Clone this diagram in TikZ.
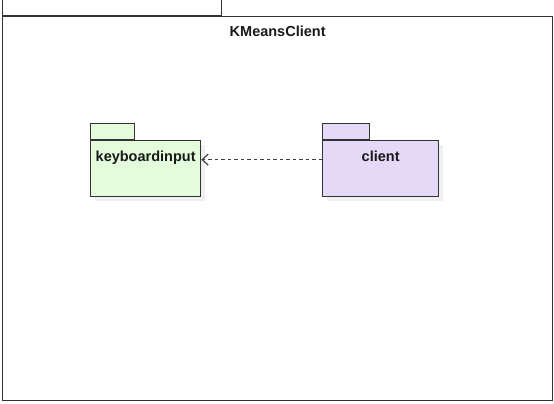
\documentclass[tikz,border=0pt]{standalone}
\usepackage{fontspec}
\setmainfont{Liberation Sans}
\usetikzlibrary{arrows.meta,shadows}
\usetikzlibrary{positioning}
\tikzstyle{frame} = [rectangle, draw=black!80, line width=1.3pt, inner sep=0pt]
\tikzstyle{pkgbody} = [rectangle, draw=black!80, line width=1.3pt, minimum width=110pt, minimum height=56pt, inner sep=0pt, drop shadow={shadow xshift=4pt, shadow yshift=-4pt, fill=black, opacity=0.06}]
\tikzstyle{pkgtab} = [rectangle, draw=black!80, line width=1.3pt, minimum height=16pt, inner sep=0pt, anchor=south west]
\tikzstyle{pkgname} = [font=\fontsize{14.5}{16}\selectfont\bfseries, text=black!90]
\tikzstyle{dependency} = [draw=black!75, line width=1.2pt, dash pattern=on 3.5pt off 3pt, -{Straight Barb[length=6pt,width=11pt,line width=1.2pt]}]
\definecolor{kbgreen}{HTML}{E4FBDC}
\definecolor{clpurple}{HTML}{E5D9F8}

\begin{document}
\begin{tikzpicture}[x=1pt, y=-1pt, node distance=10pt]
\useasboundingbox (0,0) rectangle (554,404);

\node (outer) [frame, minimum width=550pt, minimum height=384pt, anchor=north west] at (2,16) {};
\node (outertab) [frame, minimum width=219pt, minimum height=16pt, anchor=south west] at (outer.north west) {};
\node (title) [pkgname, below=6pt of outer.north] {KMeansClient};

\node (kb) [pkgbody, fill=kbgreen, anchor=north west,
  label={[pkgname, anchor=north, yshift=-7pt]north:keyboardinput}] at (90,140) {};
\node (kbtab) [pkgtab, fill=kbgreen, minimum width=44pt] at (kb.north west) {};

\node (cl) [pkgbody, fill=clpurple, minimum width=116pt, anchor=north west,
  label={[pkgname, anchor=north, yshift=-7pt]north:client}] at (322,140) {};
\node (cltab) [pkgtab, fill=clpurple, minimum width=47pt] at (cl.north west) {};

\draw [dependency] ([yshift=9pt]cl.west) -- ([yshift=9pt]kb.east);

\end{tikzpicture}
\end{document}
